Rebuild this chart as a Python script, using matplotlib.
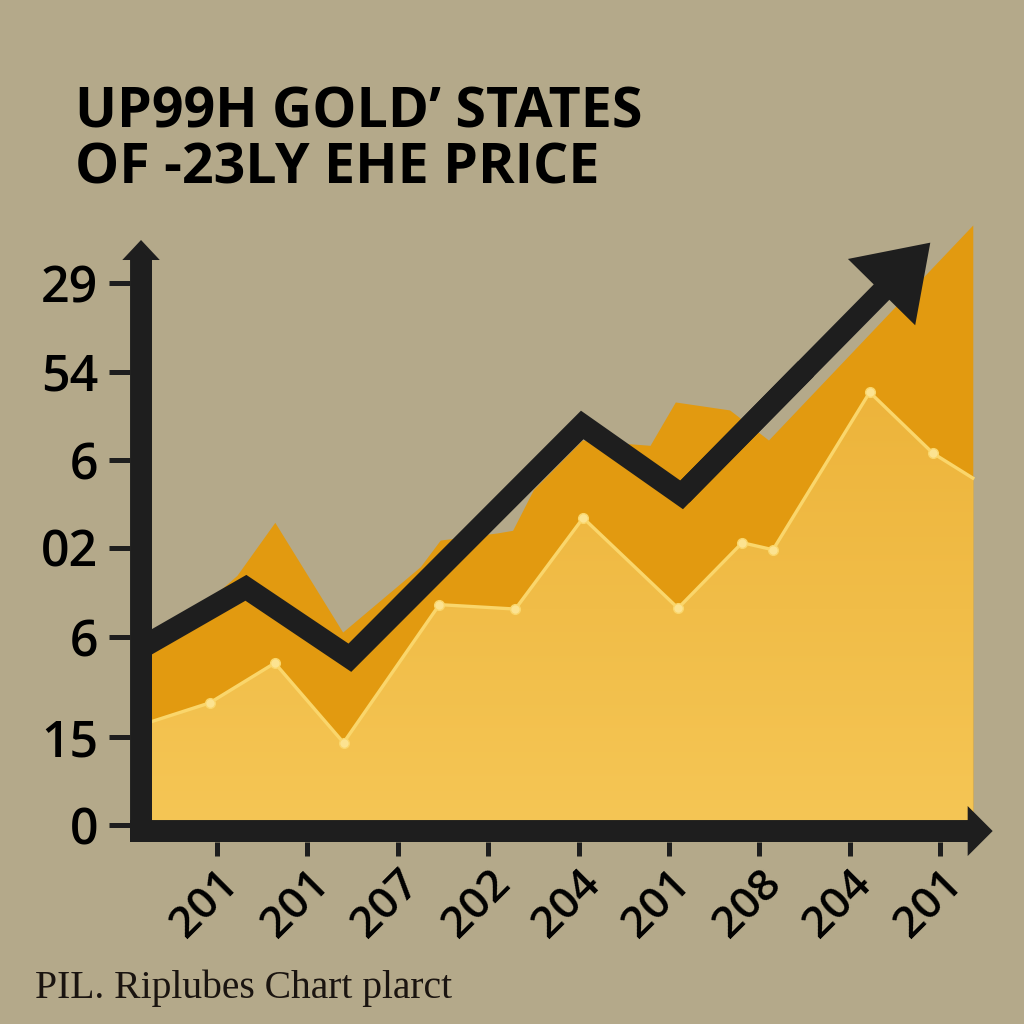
import matplotlib
matplotlib.use('Agg')
import matplotlib.pyplot as plt
import numpy as np
from matplotlib.patches import FancyArrowPatch, ArrowStyle
from matplotlib.colors import LinearSegmentedColormap

# ---- data ----
years = ['201', '201', '207', '202', '204', '201', '208', '204', '201']
ytick_pos = [0, 9.9, 21.2, 31.3, 41.2, 51.2, 61.2]
ytick_labels = ['0', '15', '6', '02', '6', '54', '29']

# dark gold band (upper area)
dark_x = [-0.84, -0.72, 0.22, 0.64, 1.39, 2.25, 2.47, 3.10, 3.27, 3.50, 4.04,
          4.79, 5.07, 5.67, 5.81, 6.10, 8.36]
dark_y = [19.4, 19.8, 28.2, 34.2, 21.8, 29.2, 32.2, 33.0, 33.3, 37.9, 43.5,
          42.9, 47.8, 46.9, 45.8, 43.5, 67.8]

# light gold area with dotted line
light_x = [-0.84, -0.08, 0.64, 1.40, 2.46, 3.30, 4.05, 5.10, 5.81, 6.15, 7.22, 7.92, 8.36]
light_y = [11.3, 13.8, 18.3, 9.3, 24.9, 24.4, 34.7, 24.5, 31.9, 31.1, 48.9, 42.0, 39.2]

# black trend arrow
trend_x = [-0.84, 0.32, 1.47, 4.04, 5.14, 7.89]
trend_y = [20.0, 26.8, 18.9, 45.2, 37.3, 65.8]

bg = '#B4A98A'
dark_gold = '#E29A10'
light_gold = '#F2C149'
ink = '#1E1E1E'

plt.rcParams['font.family'] = ['Open Sans', 'DejaVu Sans']

fig = plt.figure(figsize=(10.24, 10.24), dpi=100, facecolor=bg)
ax = fig.add_axes([130 / 1024, 182 / 1024, 870 / 1024, 622 / 1024])
ax.set_facecolor('none')
for s in ax.spines.values():
    s.set_visible(False)

ax.fill_between(dark_x, 0, dark_y, color=dark_gold, lw=0, zorder=1)
light = ax.fill_between(light_x, 0, light_y, color=light_gold, lw=0, zorder=2)
# soft vertical gradient inside the light area
cmap = LinearSegmentedColormap.from_list('gold', ['#F5C655', '#EDB43B'])
grad = np.linspace(0, 1, 256).reshape(-1, 1)
im = ax.imshow(grad, extent=[min(light_x), max(light_x), 0, max(light_y)], origin='lower',
               aspect='auto', cmap=cmap, zorder=2.1)
im.set_clip_path(light.get_paths()[0], ax.transData)

ax.plot(light_x, light_y, color='#FAD66B', lw=2.4, zorder=3)
ax.plot(light_x[1:-1], light_y[1:-1], 'o', color='#FCE391', ms=7, mec='#FAD66B', zorder=4)

# black trend line ending in a big arrow head
ext_x = trend_x[-2] + 0.5 * (trend_x[-1] - trend_x[-2])
ext_y = trend_y[-2] + 0.5 * (trend_y[-1] - trend_y[-2])
ax.plot(trend_x[:-1] + [ext_x], trend_y[:-1] + [ext_y], color=ink, lw=15.8,
        solid_joinstyle='miter', solid_capstyle='butt', zorder=5, clip_on=False)
ax.add_patch(FancyArrowPatch((trend_x[-2], trend_y[-2]), (trend_x[-1], trend_y[-1]),
                             arrowstyle=ArrowStyle.Simple(head_length=50, head_width=68, tail_width=15.8),
                             mutation_scale=1, shrinkA=0, shrinkB=0, lw=0, color=ink,
                             zorder=5, clip_on=False))

# axes drawn as thick arrows
ax.add_patch(FancyArrowPatch((-0.962, -0.68), (8.58, -0.68),
                             arrowstyle=ArrowStyle.Simple(head_length=18, head_width=36, tail_width=15.8),
                             mutation_scale=1, shrinkA=0, shrinkB=0, lw=0, color=ink,
                             zorder=6, clip_on=False))
ax.add_patch(FancyArrowPatch((-0.84, -1.92), (-0.84, 66.1),
                             arrowstyle=ArrowStyle.Simple(head_length=14.4, head_width=27, tail_width=15.8),
                             mutation_scale=1, shrinkA=0, shrinkB=0, lw=0, color=ink,
                             zorder=6, clip_on=False))

ax.set_xlim(-0.962, 8.661)
ax.set_ylim(-1.92, 68.36)

ax.set_xticks(range(len(years)))
ax.set_xticklabels(years, rotation=45, ha='right', va='top', rotation_mode='anchor',
                   fontweight='semibold')
ax.set_yticks(ytick_pos)
ax.set_yticklabels(ytick_labels, fontweight='semibold')
ax.tick_params(axis='x', length=10, width=3.6, color=ink, labelsize=32, pad=4, labelcolor='black')
ax.tick_params(axis='y', length=15, width=3.6, color=ink, labelsize=36, pad=8, labelcolor='black')

fig.text(75 / 1024, 1 - 86 / 1024, 'UP99H GOLD\u2019 STATES\nOF -23LY EHE PRICE',
         fontsize=40, fontweight='bold', va='top', ha='left', color='black', linespacing=1.0)
fig.text(35 / 1024, 1 - 998 / 1024, 'PIL. Riplubes Chart plarct', family='Liberation Serif',
         fontsize=28.5, va='baseline', ha='left', color='#1a1410')

fig.savefig('out.png', dpi=100, facecolor=bg)
